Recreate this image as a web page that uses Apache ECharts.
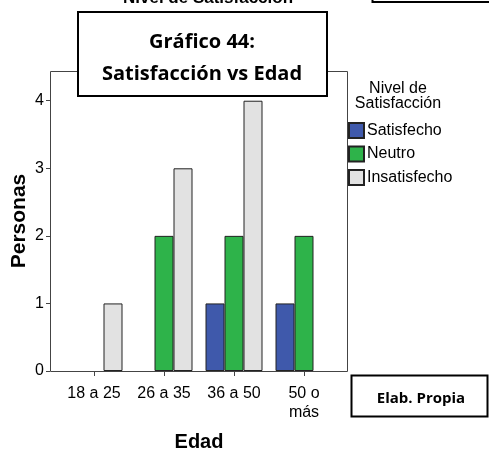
<!DOCTYPE html>
<html>
<head>
<meta charset="utf-8">
<script src="https://cdn.jsdelivr.net/npm/echarts@6/dist/echarts.min.js"></script>
<style>
  html, body { margin: 0; padding: 0; background: #fff; }
  #chart { width: 489px; height: 450px; }
</style>
</head>
<body>
<div id="chart"></div>
<script>
// Age groups on the x axis
const categories = ['18 a 25', '26 a 35', '36 a 50', '50 o\nmás'];
// People per satisfaction level in each age group
const satisfecho = [0, 0, 1, 1];
const neutro = [0, 2, 2, 2];
const insatisfecho = [1, 3, 4, 0];
const yTicks = [0, 1, 2, 3, 4];

const seriesNames = ['Satisfecho', 'Neutro', 'Insatisfecho'];
const seriesColors = ['#3F59AB', '#2EB34A', '#E2E2E2'];
const seriesData = [satisfecho, neutro, insatisfecho];

const FONT = '"Liberation Sans", Arial, sans-serif';
const BOLD_FONT = '"Open Sans", Lato, sans-serif';

const chart = echarts.init(document.getElementById('chart'), null, { renderer: 'canvas' });

const option = {
  animation: false,
  backgroundColor: '#fff',
  grid: { left: 59, right: 150, top: 71, bottom: 79, containLabel: false, outerBoundsMode: 'none' },
  xAxis: {
    type: 'category',
    data: categories,
    axisLine: { show: false },
    axisTick: { show: true, alignWithLabel: true, length: 5, lineStyle: { color: '#444' } },
    axisLabel: { color: '#000', fontSize: 16, fontFamily: FONT, margin: 13, lineHeight: 19, interval: 0 },
    name: 'Edad',
    nameLocation: 'middle',
    nameGap: 61,
    nameTextStyle: { color: '#000', fontSize: 20, fontWeight: 'bold', fontFamily: FONT }
  },
  yAxis: {
    type: 'value',
    min: 0,
    max: 4.44,
    offset: 9,
    splitLine: { show: false },
    axisLine: { show: false },
    axisTick: { show: true, length: 4, customValues: yTicks, lineStyle: { color: '#444' } },
    axisLabel: { color: '#000', fontSize: 16, fontFamily: FONT, margin: 6, customValues: yTicks },
    name: 'Personas',
    nameLocation: 'middle',
    nameGap: 20,
    nameMoveOverlap: false,
    nameRotate: 90,
    nameTextStyle: { color: '#000', fontSize: 21, fontWeight: 'bold', fontFamily: FONT }
  },
  legend: {
    orient: 'vertical',
    left: 348,
    top: 122,
    itemWidth: 15,
    itemHeight: 15,
    itemGap: 6.5,
    icon: 'rect',
    padding: 0,
    data: seriesNames,
    textStyle: { color: '#000', fontSize: 16, fontFamily: FONT, padding: [0, 0, 0, -2] }
  },
  series: seriesNames.map((name, i) => ({
    name: name,
    type: 'bar',
    // empty groups leave their slot blank
    data: seriesData[i].map(v => (v === 0 ? '-' : v)),
    barWidth: 19,
    barGap: '0%',
    itemStyle: { color: seriesColors[i], borderColor: '#222', borderWidth: 1 }
  })),
  graphic: [
    // plot frame
    {
      type: 'rect', z: 50, silent: true,
      shape: { x: 50.5, y: 71.5, width: 297, height: 300 },
      style: { fill: null, stroke: '#444', lineWidth: 1 }
    },
    // clipped heading above the chart
    {
      type: 'text', z: 60, silent: true,
      style: {
        text: 'Nivel de Satisfacción', x: 208, y: -2,
        align: 'center', verticalAlign: 'middle',
        font: 'bold 17px ' + FONT, fill: '#000'
      }
    },
    // partially visible box at the top right
    {
      type: 'rect', z: 60, silent: true,
      shape: { x: 372.5, y: -20, width: 130, height: 22 },
      style: { fill: '#fff', stroke: '#000', lineWidth: 2 }
    },
    // title box
    {
      type: 'rect', z: 70, silent: true,
      shape: { x: 78, y: 12, width: 249, height: 84 },
      style: { fill: '#fff', stroke: '#000', lineWidth: 2 }
    },
    {
      type: 'text', z: 71, silent: true,
      style: {
        text: 'Gráfico 44:', x: 202, y: 42,
        align: 'center', verticalAlign: 'middle',
        font: 'bold 20px ' + BOLD_FONT, fill: '#000'
      }
    },
    {
      type: 'text', z: 71, silent: true,
      style: {
        text: 'Satisfacción vs Edad', x: 202, y: 74,
        align: 'center', verticalAlign: 'middle',
        font: 'bold 20px ' + BOLD_FONT, fill: '#000'
      }
    },
    // legend heading
    {
      type: 'text', z: 60, silent: true,
      style: {
        text: 'Nivel de\nSatisfacción', x: 398, y: 96,
        align: 'center', verticalAlign: 'middle', lineHeight: 15,
        font: '16px ' + FONT, fill: '#000'
      }
    },
    // source note box
    {
      type: 'rect', z: 60, silent: true,
      shape: { x: 351.5, y: 375.5, width: 136, height: 41 },
      style: { fill: '#fff', stroke: '#000', lineWidth: 2 }
    },
    {
      type: 'text', z: 61, silent: true,
      style: {
        text: 'Elab. Propia', x: 421, y: 399,
        align: 'center', verticalAlign: 'middle',
        font: 'bold 15px ' + BOLD_FONT, fill: '#000'
      }
    }
  ]
};

chart.setOption(option);
</script>
</body>
</html>
